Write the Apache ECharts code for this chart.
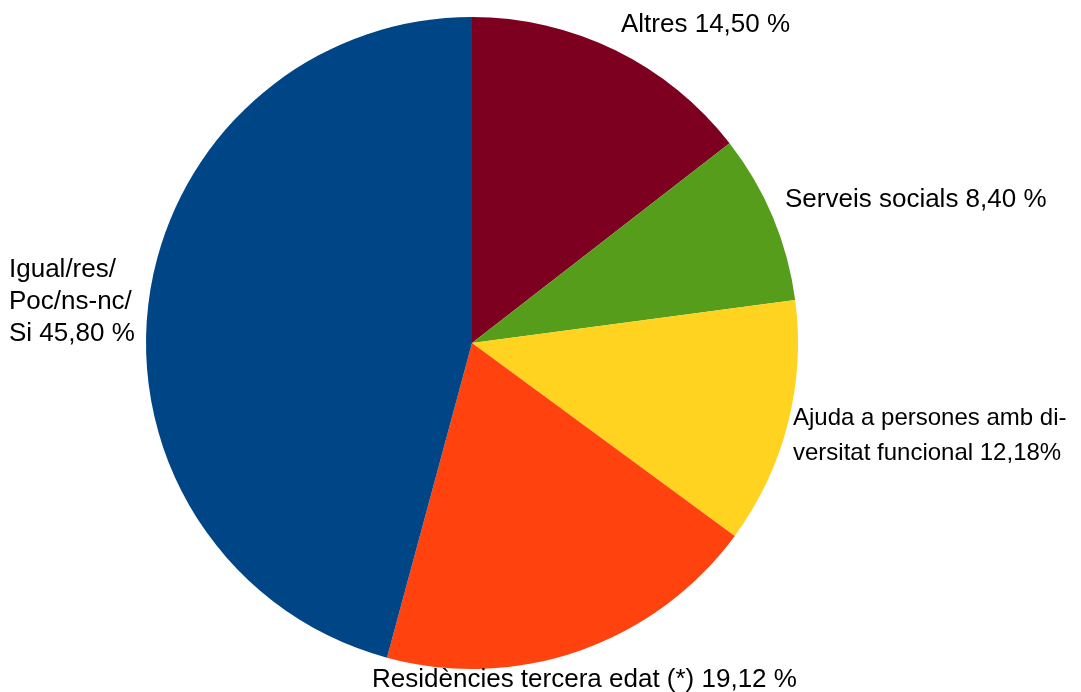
<!DOCTYPE html>
<html>
<head>
<meta charset="utf-8">
<script src="https://cdn.jsdelivr.net/npm/echarts@6/dist/echarts.min.js"></script>
<style>
  html, body { margin: 0; padding: 0; background: #fff; }
  #chart { width: 1081px; height: 692px; }
</style>
</head>
<body>
<div id="chart"></div>
<script>
// dades del gràfic
var categories = ['Altres', 'Serveis socials', 'Ajuda a persones amb diversitat funcional', 'Residències tercera edat (*)', 'Igual/res/Poc/ns-nc/Si'];
var values = [14.50, 8.40, 12.18, 19.12, 45.80];
var labelTexts = [
  'Altres 14,50 %',
  'Serveis socials 8,40 %',
  'Ajuda a persones amb di-\nversitat funcional 12,18%',
  'Residències tercera edat (*) 19,12 %',
  'Igual/res/\nPoc/ns-nc/\nSi 45,80 %'
];
var colors = ['#7E0021', '#579D1C', '#FFD320', '#FF420E', '#004586'];

// on va cada etiqueta (x, y, alineació)
var labelPos = [
  { x: 621, y: 25, align: 'left' },
  { x: 785, y: 200, align: 'left' },
  { x: 793, y: 436, align: 'left' },
  { x: 372, y: 680, align: 'left' },
  { x: 9, y: 302, align: 'left' }
];

var myChart = echarts.init(document.getElementById('chart'));

var option = {
  animation: false,
  series: [{
    type: 'pie',
    center: [472, 343],
    radius: 326,
    startAngle: 90,
    clockwise: true,
    color: colors,
    itemStyle: { borderWidth: 0 },
    label: {
      show: true,
      position: 'outside',
      alignTo: 'none',
      overflow: 'none',
      width: 600,
      fontFamily: 'Liberation Sans',
      fontSize: 26,
      color: '#000',
      lineHeight: 32,
      formatter: function (p) { return labelTexts[p.dataIndex]; }
    },
    labelLine: { show: false },
    labelLayout: function (p) {
      var lp = labelPos[p.dataIndex];
      return { x: lp.x, y: lp.y, align: lp.align, verticalAlign: 'middle' };
    },
    data: categories.map(function (c, i) {
      var d = { name: c, value: values[i] };
      if (i === 2) {
        d.label = { fontSize: 24, lineHeight: 35 };
      }
      return d;
    })
  }]
};

myChart.setOption(option);
</script>
</body>
</html>
